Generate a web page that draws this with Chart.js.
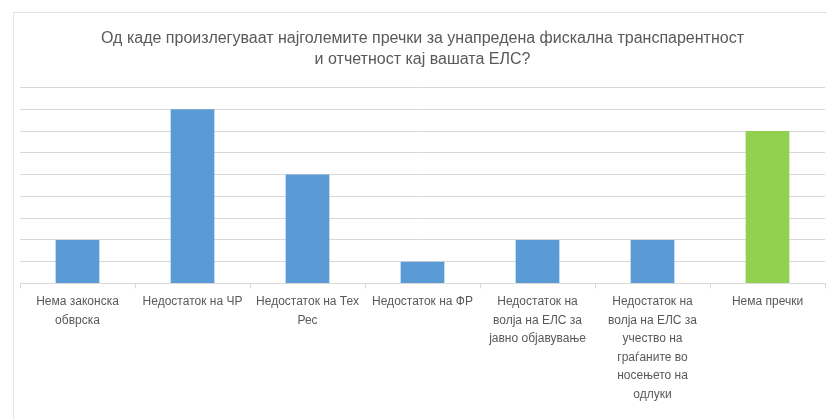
<!DOCTYPE html>
<html>
<head>
<meta charset="utf-8">
<script src="https://cdn.jsdelivr.net/npm/chart.js@4"></script>
<style>
    html, body { margin: 0; padding: 0; background: #fff; }
    #wrap { position: relative; width: 827px; height: 419px; overflow: hidden; }
    #frame {
        position: absolute; left: 13px; top: 12px; width: 900px; height: 500px;
        border: 1px solid #e3e3e3; box-sizing: border-box;
    }
    canvas { position: absolute; left: 0; top: 0; }
</style>
</head>
<body>
<div id="wrap">
    <div id="frame"></div>
    <canvas id="chart" width="827" height="419"></canvas>
</div>
<script>
// Chart title (two lines)
const titleLines = [
    'Од каде произлегуваат најголемите пречки за унапредена фискална транспарентност',
    'и отчетност кај вашата ЕЛС?'
];

// Categories, already split into lines the way they wrap under each bar
const categories = [
    ['Нема законска', 'обврска'],
    'Недостаток на ЧР',
    ['Недостаток на Тех', 'Рес'],
    'Недостаток на ФР',
    ['Недостаток на', 'волја на ЕЛС за', 'јавно објавување'],
    ['Недостаток на', 'волја на ЕЛС за', 'учество на', 'граѓаните во', 'носењето на', 'одлуки'],
    'Нема пречки'
];

// Number of answers per category
const answers = [2, 8, 5, 1, 2, 2, 7];

const blue = '#5b9bd5';
const green = '#92d050';
const barColors = categories.map((_, i) => i === categories.length - 1 ? green : blue);

const ctx = document.getElementById('chart').getContext('2d');
new Chart(ctx, {
    type: 'bar',
    data: {
        labels: categories,
        datasets: [{
            data: answers,
            backgroundColor: barColors,
            borderWidth: 0,
            categoryPercentage: 0.76,
            barPercentage: 0.5
        }]
    },
    options: {
        responsive: false,
        animation: false,
        layout: { padding: { left: 20, right: 2, top: 28, bottom: 11 } },
        plugins: {
            legend: { display: false },
            tooltip: { enabled: false },
            title: {
                display: true,
                text: titleLines,
                color: '#595959',
                font: { family: 'Liberation Sans, Arial, sans-serif', size: 16, weight: 'normal', lineHeight: 1.3 },
                padding: { top: 0, bottom: 18 }
            }
        },
        scales: {
            x: {
                grid: {
                    offset: true,
                    drawOnChartArea: false,
                    drawTicks: true,
                    tickLength: 5,
                    color: '#d9d9d9'
                },
                border: { display: true, color: '#d9d9d9' },
                ticks: {
                    color: '#595959',
                    maxRotation: 0,
                    autoSkip: false,
                    padding: 4,
                    font: { family: 'Liberation Sans, Arial, sans-serif', size: 12, lineHeight: 1.55 }
                }
            },
            y: {
                min: 0,
                max: 9,
                ticks: { display: false, stepSize: 1 },
                grid: { color: '#d9d9d9', drawTicks: false },
                border: { display: false },
                afterFit: scale => { scale.width = 0; }
            }
        }
    }
});
</script>
</body>
</html>
